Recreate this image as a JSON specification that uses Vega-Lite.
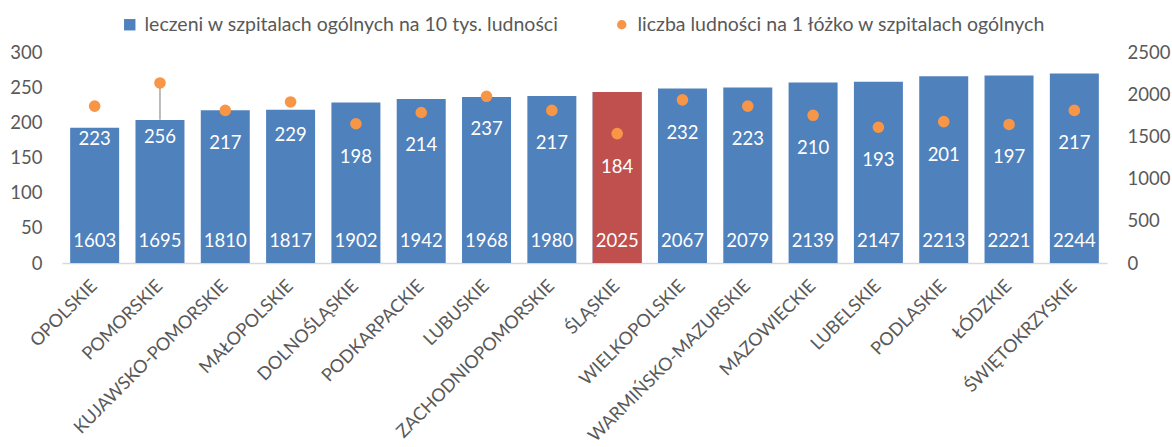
{
  "$schema": "https://vega.github.io/schema/vega-lite/v6.json",
  "width": 1045,
  "height": 211,
  "autosize": {"type": "none"},
  "padding": {"left": 62, "top": 52, "right": 65, "bottom": 184},
  "background": "white",
  "config": {
    "view": {"stroke": null},
    "font": "Lato",
    "axis": {"labelFont": "Lato", "labelFontSize": 18.5, "labelColor": "#595959", "grid": false, "ticks": false, "title": null, "labelLimit": 400},
    "legend": {"labelFont": "Lato", "labelFontSize": 19.5, "labelColor": "#595959", "labelLimit": 600, "padding": 0, "title": null}
  },
  "data": {
    "values": [
      {"region": "OPOLSKIE", "leczeni": 1603, "lozko": 223},
      {"region": "POMORSKIE", "leczeni": 1695, "lozko": 256},
      {"region": "KUJAWSKO-POMORSKIE", "leczeni": 1810, "lozko": 217},
      {"region": "MAŁOPOLSKIE", "leczeni": 1817, "lozko": 229},
      {"region": "DOLNOŚLĄSKIE", "leczeni": 1902, "lozko": 198},
      {"region": "PODKARPACKIE", "leczeni": 1942, "lozko": 214},
      {"region": "LUBUSKIE", "leczeni": 1968, "lozko": 237},
      {"region": "ZACHODNIOPOMORSKIE", "leczeni": 1980, "lozko": 217},
      {"region": "ŚLĄSKIE", "leczeni": 2025, "lozko": 184},
      {"region": "WIELKOPOLSKIE", "leczeni": 2067, "lozko": 232},
      {"region": "WARMIŃSKO-MAZURSKIE", "leczeni": 2079, "lozko": 223},
      {"region": "MAZOWIECKIE", "leczeni": 2139, "lozko": 210},
      {"region": "LUBELSKIE", "leczeni": 2147, "lozko": 193},
      {"region": "PODLASKIE", "leczeni": 2213, "lozko": 201},
      {"region": "ŁÓDZKIE", "leczeni": 2221, "lozko": 197},
      {"region": "ŚWIĘTOKRZYSKIE", "leczeni": 2244, "lozko": 217}
    ]
  },
  "encoding": {
    "x": {
      "field": "region", "type": "nominal", "sort": null,
      "scale": {"paddingInner": 0.25, "paddingOuter": 0.125},
      "axis": {"domain": true, "domainColor": "#D9D9D9", "domainWidth": 1.5, "labelAngle": -45, "labelAlign": "right", "labelBaseline": "middle", "labelPadding": 20, "labelFontSize": 18}
    }
  },
  "layer": [
    {
      "encoding": {
        "y": {"field": "leczeni", "type": "quantitative", "scale": {"domain": [0, 2500], "nice": false},
              "axis": {"orient": "right", "values": [0, 500, 1000, 1500, 2000, 2500], "format": "d", "domain": false, "labelPadding": 20}}
      },
      "layer": [
        {
          "mark": {"type": "bar"},
          "encoding": {
            "fill": {"datum": "leczeni w szpitalach ogólnych na 10 tys. ludności", "type": "nominal",
                     "scale": {"range": ["#4F81BD"]},
                     "legend": {"orient": "none", "legendX": 58, "legendY": -37, "symbolType": "square", "symbolSize": 130, "symbolStrokeWidth": 0, "labelOffset": 5}}
          }
        },
        {
          "transform": [{"filter": "datum.region === 'ŚLĄSKIE'"}],
          "mark": {"type": "bar", "color": "#C0504D"},
          "encoding": {}
        },
        {
          "mark": {"type": "text", "color": "white", "fontSize": 18.5, "baseline": "middle", "dy": -22},
          "encoding": {"y": {"datum": 0}, "text": {"field": "leczeni", "type": "quantitative", "format": "d"}}
        }
      ]
    },
    {
      "encoding": {
        "y": {"field": "lozko", "type": "quantitative", "scale": {"domain": [0, 300], "nice": false},
              "axis": {"orient": "left", "values": [0, 50, 100, 150, 200, 250, 300], "domain": false, "labelPadding": 20}}
      },
      "layer": [
        {
          "transform": [{"filter": "datum.region === 'POMORSKIE'"}],
          "mark": {"type": "rule", "color": "#A6A6A6", "strokeWidth": 1.5},
          "encoding": {"y2": {"datum": 203.5}}
        },
        {
          "mark": {"type": "point", "filled": true, "opacity": 1, "size": 135},
          "encoding": {
            "color": {"datum": "liczba ludności na 1 łóżko w szpitalach ogólnych", "type": "nominal",
                      "scale": {"range": ["#F79646"]},
                      "legend": {"orient": "none", "legendX": 550, "legendY": -37, "symbolType": "circle", "symbolSize": 90, "symbolStrokeWidth": 0, "labelOffset": 6}}
          }
        },
        {
          "transform": [{"filter": "datum.region !== 'POMORSKIE'"}],
          "mark": {"type": "text", "color": "white", "fontSize": 18.5, "baseline": "middle", "dy": 33},
          "encoding": {"text": {"field": "lozko", "type": "quantitative"}}
        },
        {
          "transform": [{"filter": "datum.region === 'POMORSKIE'"}],
          "mark": {"type": "text", "color": "white", "fontSize": 18.5, "baseline": "middle", "dy": 54},
          "encoding": {"text": {"field": "lozko", "type": "quantitative"}}
        }
      ]
    }
  ],
  "resolve": {"scale": {"y": "independent"}}
}
